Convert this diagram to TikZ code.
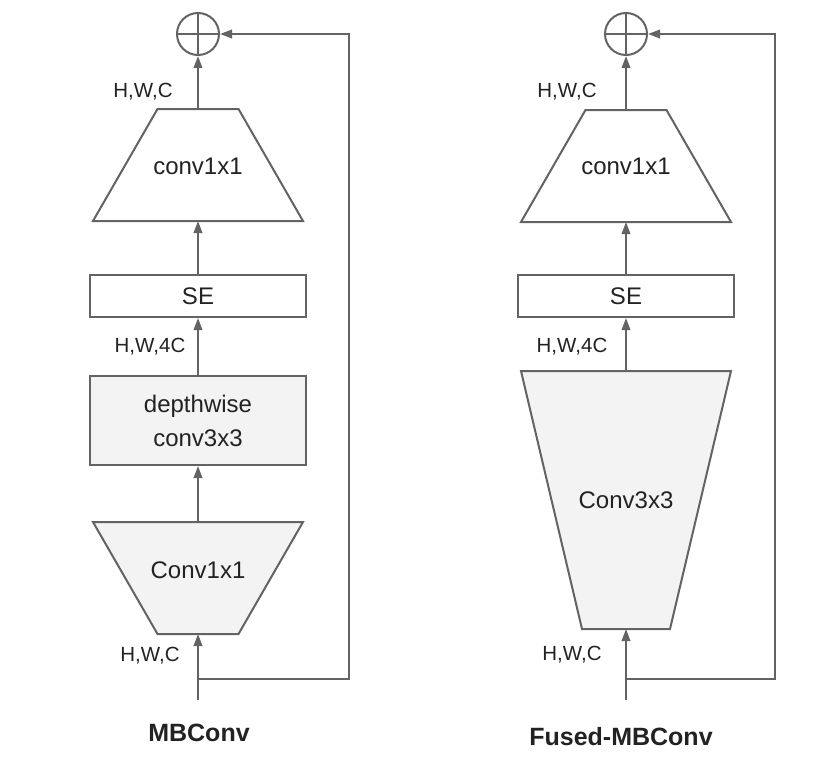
\documentclass[tikz,border=0pt]{standalone}
\usepackage{fontspec}
\setmainfont{Liberation Sans}
\usetikzlibrary{arrows.meta,calc}
\definecolor{ln}{HTML}{636363}
\definecolor{fl}{HTML}{F3F3F3}
\definecolor{tx}{HTML}{222222}
\begin{document}
\begin{tikzpicture}[x=1pt,y=-1pt,
  line width=2pt,
  every node/.style={text=tx},
  conn/.style={draw=ln,line width=2pt,-{Triangle[length=12pt,width=8.5pt]}},
  wire/.style={draw=ln,line width=2pt},
  box/.style={draw=ln,line width=2pt,rectangle,minimum width=216pt,inner sep=0pt,font=\fontsize{24}{28}\selectfont},
  area/.style={rectangle,inner sep=0pt,minimum width=208pt},
  lbl/.style={font=\fontsize{20.5}{24}\selectfont,inner sep=0pt},
  mtxt/.style={font=\fontsize{24}{28}\selectfont,inner sep=0pt},
  ttl/.style={font=\bfseries\fontsize{25}{30}\selectfont,inner sep=0pt},
  addc/.style={draw=ln,line width=2pt,circle,minimum size=42pt,inner sep=0pt}
]
\useasboundingbox (0,0) rectangle (830,760);

% ---------------- Left: MBConv ----------------
\node[addc] (Lp) at (198,34) {};
\draw[wire] (Lp.north) -- (Lp.south) (Lp.west) -- (Lp.east);

\node[area,minimum height=110pt] (Lt) at (198,165) {};
\draw[wire] (Lt.south west) -- (Lt.south east) -- ($(Lt.north east)+(-64.5,0)$) -- ($(Lt.north west)+(64.5,0)$) -- cycle;
\node[mtxt] at (198,166) {conv1x1};

\node[box,minimum height=42pt] (Lse) at (198,296) {SE};
\node[box,minimum height=89pt,fill=fl,align=center,font=\fontsize{24}{34}\selectfont] (Ldw) at (198,420.5) {depthwise\\conv3x3};

\node[area,minimum height=110pt] (Lb) at (198,578) {};
\draw[wire,fill=fl] (Lb.north west) -- (Lb.north east) -- ($(Lb.south east)+(-64.5,0)$) -- ($(Lb.south west)+(64.5,0)$) -- cycle;
\node[mtxt] at (198,570) {Conv1x1};

\coordinate (Lin) at (198,700);
\coordinate (Lj) at (198,679);
\coordinate (Lr1) at (349,679);
\coordinate (Lr2) at (349,34);

\draw[conn] (Lin) -- (Lb.south);
\draw[conn] (Lb.north) -- (Ldw.south);
\draw[conn] (Ldw.north) -- (Lse.south);
\draw[conn] (Lse.north) -- (Lt.south);
\draw[conn] (Lt.north) -- (Lp.south);
\draw[conn] (Lj) -- (Lr1) -- (Lr2) -- (Lp.east);

\node[lbl] at (143,92) {H,W,C};
\node[lbl] at (150,347) {H,W,4C};
\node[lbl] at (150,656) {H,W,C};
\node[ttl] at (199,733) {MBConv};

% ---------------- Right: Fused-MBConv ----------------
\node[addc] (Rp) at (626,34) {};
\draw[wire] (Rp.north) -- (Rp.south) (Rp.west) -- (Rp.east);

\node[area,minimum height=110pt] (Rt) at (626,166) {};
\draw[wire] (Rt.south west) -- (Rt.south east) -- ($(Rt.north east)+(-64.5,0)$) -- ($(Rt.north west)+(64.5,0)$) -- cycle;
\node[mtxt] at (626,166) {conv1x1};

\node[box,minimum height=42pt] (Rse) at (626,296) {SE};

\node[area,minimum height=256pt] (Rc) at (626,500) {};
\draw[wire,fill=fl] (Rc.north west) -- (Rc.north east) -- ($(Rc.south east)+(-61,0)$) -- ($(Rc.south west)+(61,0)$) -- cycle;
\node[mtxt] at (626,500) {Conv3x3};

\coordinate (Rin) at (626,700);
\coordinate (Rj) at (626,679);
\coordinate (Rr1) at (775,679);
\coordinate (Rr2) at (775,34);

\draw[conn] (Rin) -- (Rc.south);
\draw[conn] (Rc.north) -- (Rse.south);
\draw[conn] (Rse.north) -- (Rt.south);
\draw[conn] (Rt.north) -- (Rp.south);
\draw[conn] (Rj) -- (Rr1) -- (Rr2) -- (Rp.east);

\node[lbl] at (567,92) {H,W,C};
\node[lbl] at (572,347) {H,W,4C};
\node[lbl] at (572,655) {H,W,C};
\node[ttl] at (621,737) {Fused-MBConv};
\end{tikzpicture}
\end{document}
